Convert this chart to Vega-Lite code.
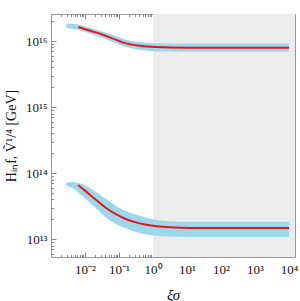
{
  "$schema": "https://vega.github.io/schema/vega-lite/v6.json",
  "width": 244,
  "height": 243,
  "autosize": {"type": "none"},
  "padding": {"left": 51, "top": 14, "right": 5, "bottom": 44},
  "background": "white",
  "config": {
    "view": {"stroke": null},
    "axis": {
      "labelFont": "Liberation Serif",
      "titleFont": "Liberation Serif",
      "labelFontSize": 13,
      "labelColor": "#111",
      "titleColor": "#111",
      "titleFontWeight": "normal",
      "domainColor": "#999",
      "tickColor": "#888",
      "grid": false
    }
  },
  "datasets": {
    "shade": [{"x0": 1, "x1": 15000}],
    "band": [
      {"series": "upper", "xi": 0.0028, "lo": 1.58e16, "hi": 1.84e16},
      {"series": "upper", "xi": 0.0063, "lo": 1.48e16, "hi": 1.78e16},
      {"series": "upper", "xi": 0.015, "lo": 1.28e16, "hi": 1.56e16},
      {"series": "upper", "xi": 0.032, "lo": 1.12e16, "hi": 1.40e16},
      {"series": "upper", "xi": 0.07, "lo": 0.96e16, "hi": 1.22e16},
      {"series": "upper", "xi": 0.15, "lo": 0.82e16, "hi": 1.06e16},
      {"series": "upper", "xi": 0.4, "lo": 0.74e16, "hi": 0.97e16},
      {"series": "upper", "xi": 1.15, "lo": 0.70e16, "hi": 0.93e16},
      {"series": "upper", "xi": 10, "lo": 0.69e16, "hi": 0.92e16},
      {"series": "upper", "xi": 10000, "lo": 0.69e16, "hi": 0.92e16},
      {"series": "lower", "xi": 0.00276, "lo": 6.58e13, "hi": 7.18e13},
      {"series": "lower", "xi": 0.00415, "lo": 5.93e13, "hi": 7.31e13},
      {"series": "lower", "xi": 0.00622, "lo": 5.15e13, "hi": 7.18e13},
      {"series": "lower", "xi": 0.01, "lo": 4.18e13, "hi": 6.58e13},
      {"series": "lower", "xi": 0.0197, "lo": 3.05e13, "hi": 5.34e13},
      {"series": "lower", "xi": 0.0388, "lo": 2.19e13, "hi": 4.18e13},
      {"series": "lower", "xi": 0.0762, "lo": 1.72e13, "hi": 3.27e13},
      {"series": "lower", "xi": 0.15, "lo": 1.47e13, "hi": 2.70e13},
      {"series": "lower", "xi": 0.296, "lo": 1.30e13, "hi": 2.39e13},
      {"series": "lower", "xi": 0.582, "lo": 1.19e13, "hi": 2.12e13},
      {"series": "lower", "xi": 1.145, "lo": 1.13e13, "hi": 1.97e13},
      {"series": "lower", "xi": 3.16, "lo": 1.10e13, "hi": 1.87e13},
      {"series": "lower", "xi": 12.2, "lo": 1.08e13, "hi": 1.83e13},
      {"series": "lower", "xi": 10000, "lo": 1.08e13, "hi": 1.83e13}
    ],
    "red": [
      {"series": "upper", "xi": 0.0063, "v": 1.63e16},
      {"series": "upper", "xi": 0.015, "v": 1.42e16},
      {"series": "upper", "xi": 0.032, "v": 1.26e16},
      {"series": "upper", "xi": 0.07, "v": 1.08e16},
      {"series": "upper", "xi": 0.15, "v": 9.3e15},
      {"series": "upper", "xi": 0.4, "v": 8.5e15},
      {"series": "upper", "xi": 1.15, "v": 8.1e15},
      {"series": "upper", "xi": 10, "v": 7.9e15},
      {"series": "upper", "xi": 10000, "v": 7.9e15},
      {"series": "lower", "xi": 0.00622, "v": 6.58e13},
      {"series": "lower", "xi": 0.01, "v": 5.43e13},
      {"series": "lower", "xi": 0.0197, "v": 4.06e13},
      {"series": "lower", "xi": 0.0388, "v": 3.05e13},
      {"series": "lower", "xi": 0.0762, "v": 2.43e13},
      {"series": "lower", "xi": 0.15, "v": 2.04e13},
      {"series": "lower", "xi": 0.296, "v": 1.81e13},
      {"series": "lower", "xi": 0.582, "v": 1.67e13},
      {"series": "lower", "xi": 1.145, "v": 1.585e13},
      {"series": "lower", "xi": 3.16, "v": 1.51e13},
      {"series": "lower", "xi": 12.2, "v": 1.47e13},
      {"series": "lower", "xi": 93.5, "v": 1.47e13},
      {"series": "lower", "xi": 10000, "v": 1.47e13}
    ]
  },
  "resolve": {"axis": {"x": "independent", "y": "independent"}},
  "layer": [
    {
      "data": {"name": "shade"},
      "mark": {"type": "rect", "color": "#ececec"},
      "encoding": {
        "x": {
          "field": "x0", "type": "quantitative",
          "scale": {"type": "log", "domain": [0.001, 15000], "nice": false, "zero": false},
          "axis": {
            "orient": "bottom", "title": "ξσ", "titleFontSize": 15, "titleFontStyle": "italic", "titlePadding": 11,
            "values": [0.01, 0.1, 1, 10, 100, 1000, 10000],
            "labelExpr": "'10' + ['⁻³','⁻²','⁻¹','⁰','¹','²','³','⁴'][round(log(datum.value)/LN10)+3]",
            "tickSize": -5, "labelPadding": 11, "labelFlush": false, "labelOverlap": false
          }
        },
        "x2": {"field": "x1"}
      }
    },
    {
      "data": {"name": "band"},
      "transform": [{"filter": "datum.series == 'upper'"}],
      "mark": {"type": "area", "color": "#9dd7ec", "interpolate": "monotone", "opacity": 1},
      "encoding": {
        "x": {
          "field": "xi", "type": "quantitative",
          "axis": {
            "orient": "bottom", "title": null, "labels": false, "domain": false, "tickSize": -2.5,
            "values": [0.002,0.003,0.004,0.005,0.006,0.007,0.008,0.009,0.02,0.03,0.04,0.05,0.06,0.07,0.08,0.09,0.2,0.3,0.4,0.5,0.6,0.7,0.8,0.9,2,3,4,5,6,7,8,9,20,30,40,50,60,70,80,90,200,300,400,500,600,700,800,900,2000,3000,4000,5000,6000,7000,8000,9000]
          }
        },
        "y": {
          "field": "lo", "type": "quantitative",
          "scale": {"type": "log", "domain": [5.37e12, 2.57e16], "nice": false, "zero": false},
          "axis": {
            "orient": "left", "title": "Hᵢₙf, Ṽ¹/⁴ [GeV]", "titleFontSize": 14, "titlePadding": 7,
            "values": [1e13, 1e14, 1e15, 1e16],
            "labelExpr": "'10' + ['¹³','¹⁴','¹⁵','¹⁶'][round(log(datum.value)/LN10)-13]",
            "tickSize": -5, "labelPadding": 9, "labelFlush": false, "labelOverlap": false
          }
        },
        "y2": {"field": "hi"}
      }
    },
    {
      "data": {"name": "band"},
      "transform": [{"filter": "datum.series == 'lower'"}],
      "mark": {"type": "area", "color": "#9dd7ec", "interpolate": "monotone", "opacity": 1},
      "encoding": {
        "x": {
          "field": "xi", "type": "quantitative",
          "axis": {
            "orient": "top", "title": null, "labels": false, "tickSize": -5,
            "values": [0.001, 0.01, 0.1, 1, 10, 100, 1000, 10000]
          }
        },
        "y": {
          "field": "lo", "type": "quantitative",
          "axis": {
            "orient": "left", "title": null, "labels": false, "domain": false, "tickSize": -2.5,
            "values": [6e12,7e12,8e12,9e12,2e13,3e13,4e13,5e13,6e13,7e13,8e13,9e13,2e14,3e14,4e14,5e14,6e14,7e14,8e14,9e14,2e15,3e15,4e15,5e15,6e15,7e15,8e15,9e15,2e16]
          }
        },
        "y2": {"field": "hi"}
      }
    },
    {
      "data": {"name": "red"},
      "transform": [{"filter": "datum.series == 'upper'"}],
      "mark": {"type": "line", "color": "#e8161b", "strokeWidth": 2, "interpolate": "monotone"},
      "encoding": {
        "x": {
          "field": "xi", "type": "quantitative",
          "axis": {
            "orient": "top", "title": null, "labels": false, "domain": false, "tickSize": -2.5,
            "values": [0.002,0.003,0.004,0.005,0.006,0.007,0.008,0.009,0.02,0.03,0.04,0.05,0.06,0.07,0.08,0.09,0.2,0.3,0.4,0.5,0.6,0.7,0.8,0.9,2,3,4,5,6,7,8,9,20,30,40,50,60,70,80,90,200,300,400,500,600,700,800,900,2000,3000,4000,5000,6000,7000,8000,9000]
          }
        },
        "y": {
          "field": "v", "type": "quantitative",
          "axis": {
            "orient": "right", "title": null, "labels": false, "tickSize": -5,
            "values": [1e13, 1e14, 1e15, 1e16]
          }
        }
      }
    },
    {
      "data": {"name": "red"},
      "transform": [{"filter": "datum.series == 'lower'"}],
      "mark": {"type": "line", "color": "#e8161b", "strokeWidth": 2, "interpolate": "monotone"},
      "encoding": {
        "x": {"field": "xi", "type": "quantitative", "axis": null},
        "y": {
          "field": "v", "type": "quantitative",
          "axis": {
            "orient": "right", "title": null, "labels": false, "domain": false, "tickSize": -2.5,
            "values": [6e12,7e12,8e12,9e12,2e13,3e13,4e13,5e13,6e13,7e13,8e13,9e13,2e14,3e14,4e14,5e14,6e14,7e14,8e14,9e14,2e15,3e15,4e15,5e15,6e15,7e15,8e15,9e15,2e16]
          }
        }
      }
    }
  ]
}
